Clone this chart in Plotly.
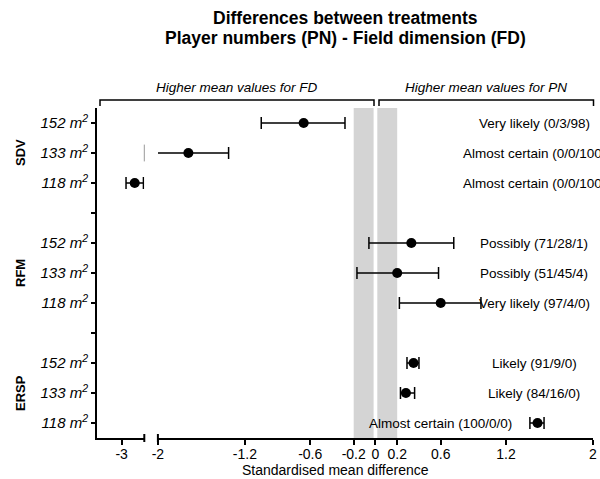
import plotly.graph_objects as go

# ---- data -------------------------------------------------------------
groups = ["SDV", "RFM", "ERSP"]
areas = ["152 m<sup>2</sup>", "133 m<sup>2</sup>", "118 m<sup>2</sup>"]

smd_sdv = [-0.66, -1.72, -2.88]
lo_sdv = [-1.05, -2.10, -2.96]
hi_sdv = [-0.28, -1.35, -2.80]

smd_rfm = [0.33, 0.20, 0.60]
lo_rfm = [-0.06, -0.17, 0.22]
hi_rfm = [0.72, 0.58, 0.97]

smd_ersp = [0.35, 0.28, 1.49]
lo_ersp = [0.29, 0.23, 1.42]
hi_ersp = [0.40, 0.36, 1.55]

inference_sdv = ["Very likely (0/3/98)", "Almost certain (0/0/100)", "Almost certain (0/0/100)"]
inference_rfm = ["Possibly (71/28/1)", "Possibly (51/45/4)", "Very likely (97/4/0)"]
inference_ersp = ["Likely (91/9/0)", "Likely (84/16/0)", "Almost certain (100/0/0)"]

main_ticks = [-2, -1.2, -0.6, -0.2, 0, 0.2, 0.6, 1.2, 2]
main_ticktext = ["-2", "-1.2", "-0.6", "-0.2", "0", "0.2", "0.6", "1.2", "2"]
left_ticks = [-3]
left_ticktext = ["-3"]

# ---- layout geometry (pixels) ------------------------------------------
W, H = 600, 479
L, R, T, B = 97, 7, 108, 41
PW, PH = W - L - R, H - T - B


def px_x(p):
    return (p - L) / PW


def px_y(p):
    return (H - B - p) / PH


MAIN_RANGE = [-2, 2]
LEFT_RANGE = [-3.227, -2.792]
X2_DOMAIN = [0, px_x(144.3)]
X_DOMAIN = [px_x(157.9), 1]

FONT = "Liberation Sans, Arial, Helvetica, sans-serif"

# ---- assemble rows -----------------------------------------------------
smd = smd_sdv + smd_rfm + smd_ersp
lo = lo_sdv + lo_rfm + lo_ersp
hi = hi_sdv + hi_rfm + hi_ersp
inference = inference_sdv + inference_rfm + inference_ersp

# each group takes three rows, followed by one empty row
rows = [11 - (4 * g + i) for g in range(len(groups)) for i in range(len(areas))]
blank_rows = [r for r in range(1, 12) if r not in rows]
err_plus = [h - m for h, m in zip(hi, smd)]
err_minus = [m - l for m, l in zip(smd, lo)]

fig = go.Figure()

for xa in ["x", "x2"]:
    fig.add_trace(go.Scatter(
        x=smd, y=rows, mode="markers", xaxis=xa, yaxis="y",
        marker=dict(size=10, color="black"),
        error_x=dict(type="data", symmetric=False, array=err_plus,
                     arrayminus=err_minus, color="black", thickness=1.5, width=6),
        showlegend=False, hoverinfo="skip",
    ))

# interval ends falling inside the axis break are pinned to the left segment edge
edge_y = [r for r, l in zip(rows, lo) if LEFT_RANGE[1] < l < MAIN_RANGE[0]]
fig.add_trace(go.Scatter(
    x=[LEFT_RANGE[1]] * len(edge_y), y=edge_y, mode="markers",
    xaxis="x2", yaxis="y", cliponaxis=False,
    marker=dict(symbol="line-ns", size=12, line=dict(width=1, color="#999999")),
    showlegend=False, hoverinfo="skip",
))

# ---- shaded trivial-difference zone ------------------------------------
shapes = []
for x0, x1 in [(-0.2, -0.017), (0.017, 0.2)]:
    shapes.append(dict(type="rect", xref="x", yref="paper", x0=x0, x1=x1, y0=0, y1=1,
                       fillcolor="#d4d4d4", line=dict(width=0), layer="below"))

# break marks at the ends of the two axis segments
shapes.append(dict(type="line", xref="x2 domain", yref="paper", x0=1, x1=1,
                   ysizemode="pixel", yanchor=0, y0=-4, y1=4,
                   line=dict(color="black", width=2)))
shapes.append(dict(type="line", xref="x domain", yref="paper", x0=0, x1=0,
                   ysizemode="pixel", yanchor=0, y0=-4, y1=4,
                   line=dict(color="black", width=2)))

# brackets above the plot
by, bl = px_y(100), px_y(106)
for x0, x1 in [(px_x(100), px_x(374)), (px_x(379), px_x(593.5))]:
    shapes.append(dict(type="path", xref="paper", yref="paper",
                       path=f"M {x0},{bl} L {x0},{by} L {x1},{by} L {x1},{bl}",
                       line=dict(color="black", width=1.5)))

annotations = []
annotations.append(dict(text="Higher mean values for FD", xref="paper", yref="paper",
                        x=(px_x(100) + px_x(374)) / 2, y=px_y(87.5), showarrow=False,
                        xanchor="center", yanchor="middle",
                        font=dict(family=FONT, size=13.5, color="black", style="italic")))
annotations.append(dict(text="Higher mean values for PN", xref="paper", yref="paper",
                        x=(px_x(379) + px_x(593.5)) / 2, y=px_y(87.5), showarrow=False,
                        xanchor="center", yanchor="middle",
                        font=dict(family=FONT, size=13.5, color="black", style="italic")))

# titles
annotations.append(dict(text="<b>Differences between treatments</b>", xref="paper", yref="paper",
                        x=0.5, y=px_y(18.5), showarrow=False, xanchor="center", yanchor="middle",
                        font=dict(family=FONT, size=17.5, color="black")))
annotations.append(dict(text="<b>Player numbers (PN) - Field dimension (FD)</b>", xref="paper",
                        yref="paper", x=0.5, y=px_y(38.5), showarrow=False,
                        xanchor="center", yanchor="middle",
                        font=dict(family=FONT, size=17.5, color="black")))

# group labels on the left
for g, name in enumerate(groups):
    annotations.append(dict(text=f"<b>{name}</b>", xref="paper", yref="y",
                            x=px_x(20), y=11 - 4 * g - 1, showarrow=False, textangle=-90,
                            xanchor="center", yanchor="middle",
                            font=dict(family=FONT, size=13, color="black")))

# qualitative inference labels
for k, (r, txt) in enumerate(zip(rows, inference)):
    lx = 0.6 if k == len(rows) - 1 else 1.46
    annotations.append(dict(text=txt, xref="x", yref="y", x=lx, y=r, showarrow=False,
                            xanchor="center", yanchor="middle",
                            font=dict(family=FONT, size=13.5, color="black")))

# x axis title
annotations.append(dict(text="Standardised mean difference", xref="paper", yref="paper",
                        x=px_x(335), y=px_y(470.5), showarrow=False,
                        xanchor="center", yanchor="middle",
                        font=dict(family=FONT, size=14, color="black")))

# ---- y tick labels -----------------------------------------------------
ytickvals = rows
yticktext = [areas[k % len(areas)] for k in range(len(rows))]

axis_common = dict(showgrid=False, zeroline=False, showline=True, linecolor="black",
                   linewidth=2, ticks="outside", tickcolor="black", tickwidth=1.5,
                   automargin=False, ticklabelstandoff=-3,
                   tickfont=dict(family=FONT, size=14, color="black"))

fig.update_layout(
    width=W, height=H,
    margin=dict(l=L, r=R, t=T, b=B, pad=0, autoexpand=False),
    paper_bgcolor="white", plot_bgcolor="white",
    xaxis=dict(domain=X_DOMAIN, range=MAIN_RANGE, anchor="y", tickmode="array",
               tickvals=main_ticks, ticktext=main_ticktext, ticklen=5, **axis_common),
    xaxis2=dict(domain=X2_DOMAIN, range=LEFT_RANGE, anchor="y", tickmode="array",
                tickvals=left_ticks, ticktext=left_ticktext, ticklen=5, **axis_common),
    yaxis=dict(range=[0.5, 11.5], anchor="x2", tickmode="array", tickvals=ytickvals,
               ticktext=yticktext, showgrid=False, zeroline=False, showline=True,
               linecolor="black", linewidth=2, ticks="outside", ticklen=4,
               tickcolor="black", tickwidth=1.5, automargin=False,
               minor=dict(tickmode="array", tickvals=blank_rows, ticks="outside",
                          ticklen=4, tickwidth=1.5, tickcolor="black", showgrid=False),
               tickfont=dict(family=FONT, size=15, color="black", style="italic")),
    shapes=shapes,
    annotations=annotations,
    showlegend=False,
)

fig.write_html("out.html")
